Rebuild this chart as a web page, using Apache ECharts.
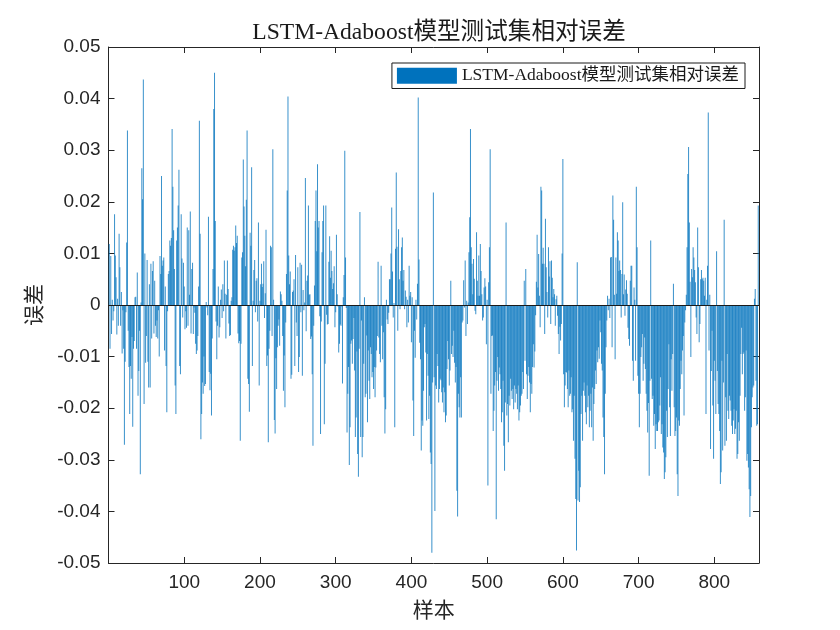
<!DOCTYPE html>
<html>
<head>
<meta charset="utf-8">
<script src="https://cdn.jsdelivr.net/npm/echarts@6/dist/echarts.min.js"></script>
<style>html,body{margin:0;padding:0;background:#fff;}#c{width:840px;height:630px;}</style>
</head>
<body>
<div id="c"></div>
<script>
const titleText = 'LSTM-Adaboost模型测试集相对误差';
const seriesName = 'LSTM-Adaboost模型测试集相对误差';
const xName = '样本';
const yName = '误差';
const xTicks = [100, 200, 300, 400, 500, 600, 700, 800];
const yTicks = [-0.05, -0.04, -0.03, -0.02, -0.01, 0, 0.01, 0.02, 0.03, 0.04, 0.05];
// relative error per sample
const errors = [
0.0118,-0.0085,0.0095,-0.0056,0.001,-0.003,-0.0012,0.0176,0.0096,0.0054,
-0.0057,0.0012,-0.004,0.0138,0.0073,-0.004,0.0025,-0.0094,-0.001,-0.0085,
-0.0271,-0.011,-0.0014,0.0121,0.0338,-0.005,-0.012,-0.0211,-0.0118,-0.0143,
-0.0062,-0.0236,-0.0085,-0.007,0.0015,0.0016,-0.0085,0.0063,-0.0176,-0.0128,
-0.005,-0.0328,0.0005,0.0265,0.0205,0.0437,-0.0192,0.01,-0.0112,-0.006,
0.0087,-0.011,-0.016,0.004,-0.016,0.008,-0.0065,0.0066,0.0085,-0.0055,
0.0047,-0.004,-0.0062,-0.003,-0.0065,-0.001,-0.01,0.0095,0.006,0.025,
0.0076,0.0086,
0.0092,-0.0088,0.0036,-0.0118,-0.0208,-0.0012,0.006,0.0066,0.0125,0.0115,
0.013,0.0341,0.0229,0.0145,0.007,-0.0156,-0.0211,0.0125,0.015,
0.0193,0.0262,-0.0118,-0.0134,0.0176,0.009,-0.0024,0.0082,0.0036,-0.0047,
-0.0012,-0.0044,0.015,-0.004,0.0145,0.002,0.0181,-0.0055,0.007,0.0082,
-0.0056,-0.0005,-0.0015,-0.0075,-0.0095,-0.0088,-0.006,0.0036,0.0357,0.0138,
-0.026,-0.0211,-0.015,-0.0172,-0.01,-0.0157,-0.0153,0.0006,-0.0005,-0.002,
0.0171,-0.013,-0.0165,-0.0133,-0.0214,-0.0065,0.007,0.038,0.045,0.0163,
-0.0032,-0.0105,-0.004,
0.0036,-0.0063,-0.0043,0.001,0.003,-0.0025,0.004,-0.0012,0.0086,0.0022,
-0.0065,0.002,0.0086,0.0031,-0.0036,-0.006,-0.0058,0.0008,0.0015,0.0107,
0.0115,0.0105,0.0112,0.0154,0.012,0.0134,-0.0055,-0.0074,-0.007,-0.0263,
-0.0075,0.0092,0.0102,0.0282,0.0191,0.0134,0.0075,0.0204,0.0338,-0.0143,
-0.0153,-0.0207,0.014,0.0115,0.0267,-0.0118,0.0008,0.0068,0.0087,-0.0014,
0.0047,0.0052,-0.0032,0.016,-0.0156,0.0008,0.004,0.008,0.0035,0.0041,
0.0085,-0.0025,0.0023,0.0146,-0.0118,-0.0098,-0.0266,-0.0085,-0.005,0.0115,
0.0112,-0.006,0.0302,
0.001,-0.0223,-0.0249,-0.0103,-0.0163,-0.0082,-0.004,-0.0028,-0.0079,0.0026,
0.0021,0.0008,-0.006,-0.0166,-0.0098,-0.0198,-0.0034,0.006,0.0222,0.0404,
0.0096,0.004,0.0065,-0.0143,-0.0135,0.0025,0.0028,0.005,-0.0118,0.0097,
-0.0034,-0.006,0.0073,-0.013,-0.0101,0.0082,-0.0014,0.0078,-0.0137,0.0029,
-0.001,0.0005,0.0246,-0.0051,0.0047,0.0057,0.0193,0.002,0.0021,
-0.0066,-0.0061,-0.0134,-0.0273,-0.004,0.0038,0.0163,0.0222,0.0104,0.0273,
0.015,0.0163,-0.0022,-0.025,-0.0032,0.0102,0.0163,0.0193,-0.0231,-0.0114,
0.0193,-0.0019,-0.0038,
-0.0037,0.0084,0.0133,0.0053,0.0105,0.0066,0.0031,0.0042,0.0075,-0.0043,
-0.0014,0.0136,0.0021,-0.0003,-0.0092,-0.0075,-0.0038,-0.004,-0.0003,-0.0152,
0.0015,0.0058,0.0299,0.0092,-0.0006,-0.0247,-0.0172,-0.012,-0.031,-0.0237,
-0.0075,-0.0069,-0.0114,-0.0066,-0.0025,-0.0127,-0.0256,-0.0218,-0.009,-0.0289,
-0.0333,-0.0085,0.018,-0.0256,-0.003,-0.0295,-0.0256,-0.0114,0.0015,-0.0179,
-0.0172,-0.0059,-0.0227,-0.0088,-0.0147,-0.0182,-0.0082,-0.0095,-0.014,-0.013,
-0.0163,-0.012,-0.0179,-0.0121,-0.0088,-0.006,0.0084,-0.0063,-0.0095,-0.0111,
0.0076,-0.004,-0.0105,
-0.0053,-0.0179,-0.0249,-0.0202,0.001,-0.0028,-0.0037,-0.0015,0.005,0.005,
0.01,0.0189,0.0065,-0.0024,0.0004,-0.0237,0.0109,0.0257,0.0113,-0.005,
0.0147,0.005,-0.0008,0.0066,0.0112,0.0131,0.0047,0.0068,-0.0008,0.0028,
0.0016,-0.0043,0.001,-0.0034,0.0076,0.0018,0.0025,-0.0072,0.0015,-0.0185,
-0.0254,-0.005,-0.0102,0.001,-0.0028,0.0041,0.0402,0.0088,-0.0073,-0.0105,
-0.0282,-0.0224,-0.0234,-0.0166,-0.0043,-0.0037,-0.0092,-0.0224,-0.0095,-0.0137,
-0.0221,-0.0176,-0.0286,-0.0308,-0.048,-0.015,
0.0218,-0.014,-0.0399,-0.0156,-0.0163,-0.0095,
-0.0118,-0.0189,-0.0163,-0.0143,-0.0146,-0.0169,-0.0189,-0.016,-0.0208,-0.0169,
-0.0227,-0.0214,-0.0124,-0.007,-0.0105,-0.0156,-0.0127,0.0047,-0.0095,-0.0079,
-0.0101,-0.005,-0.0112,-0.015,-0.012,-0.036,-0.041,-0.0172,-0.0198,-0.0218,
-0.014,-0.0218,-0.0034,-0.003,0.0048,-0.0005,0.0086,-0.006,0.0008,-0.0037,
0.0005,0.0102,0.017,0.0341,0.0112,0.008,0.0021,0.0089,0.0051,-0.0011,
-0.0018,0.0141,0.0047,0.0018,0.0096,0.0018,0.0118,0.0066,0.0021,-0.003,
-0.0024,0.0034,0.0052,0.0036,-0.0076,0.001,-0.035,0.0044,0.0112,0.0302,
-0.0172,-0.006,-0.0059,
-0.0244,-0.0205,-0.0156,-0.013,-0.0415,-0.0147,-0.0101,-0.0166,-0.0121,-0.0134,
-0.0163,-0.0227,-0.0208,-0.0147,-0.0273,-0.0321,-0.0189,0.016,-0.0214,-0.0192,
-0.0266,-0.0176,-0.0195,-0.0143,-0.0166,-0.0182,-0.0163,-0.0202,-0.0156,-0.0189,
-0.0163,-0.0172,-0.0202,-0.0156,-0.0224,-0.0208,-0.0195,-0.0176,-0.0172,-0.013,
-0.0163,0.0047,-0.0108,0.007,-0.0134,-0.0182,-0.0137,-0.012,-0.015,-0.0208,
-0.0153,-0.0172,-0.012,-0.0076,-0.0121,-0.009,-0.002,0.0045,0.0136,0.0034,
0.0099,0.0018,-0.0043,0.0229,0.0222,0.008,0.0111,0.008,-0.0056,0.0167,
0.0073,0.0025,-0.0024,
0.0112,0.0055,0.0085,-0.0037,0.0086,0.0053,0.0015,0.0031,0.0021,-0.004,
0.0011,0.0018,-0.0021,-0.0056,-0.0095,-0.0042,-0.0069,-0.0037,
0.01,0.0283,-0.0134,-0.0198,-0.0156,-0.013,-0.0131,-0.0163,-0.0198,-0.0127,
-0.0176,-0.0172,-0.014,-0.0208,-0.0202,-0.0263,-0.0176,-0.0298,-0.0376,-0.0476,
0.0083,-0.0379,-0.0321,-0.0382,-0.0353,-0.0211,-0.0176,-0.0263,-0.0166,-0.015,
-0.0176,-0.0208,-0.0231,-0.0156,-0.0198,-0.0176,-0.0237,-0.0205,-0.0172,-0.0237,
-0.016,-0.0263,-0.0192,-0.0163,-0.0127,-0.0153,-0.0088,-0.0111,-0.0082,-0.0104,
-0.003,-0.0053,-0.0114,-0.0127,
-0.0218,-0.0256,-0.0328,-0.0172,-0.0082,-0.003,0.0018,-0.001,0.0012,-0.0025,
0.0092,0.0093,-0.0082,0.0212,0.0165,0.002,-0.0105,0.0092,0.0022,0.0141,
0.0125,0.0066,0.0086,0.0068,-0.0024,0.006,0.0199,0.0021,0.0059,-0.0021,
0.003,0.0048,0.0022,-0.0044,-0.0066,-0.0079,0.0047,0.0076,0.0076,-0.0108,
-0.0147,0.0034,0.001,-0.0108,0.0229,0.0112,-0.0137,-0.0172,-0.0237,-0.0172,
-0.0101,-0.0082,-0.0056,-0.0147,-0.0114,-0.0063,-0.0124,-0.0172,-0.0205,-0.0247,
-0.019,-0.0331,-0.0147,0.0125,-0.0143,-0.0182,-0.0176,-0.0234,-0.0211,-0.0279,
-0.0231,-0.0244,-0.0244,
-0.0227,-0.0224,-0.0195,-0.014,-0.025,-0.0231,-0.0276,-0.0286,-0.0337,-0.0324,
-0.0295,-0.0205,-0.0256,-0.0163,-0.0076,-0.0198,-0.0254,-0.0105,-0.0166,-0.0095,
0.0041,-0.0198,-0.0254,-0.0244,-0.0218,-0.0328,-0.037,-0.0224,-0.0234,-0.0163,
-0.0108,-0.0134,-0.0088,-0.006,-0.0214,-0.0034,-0.001,0.002,0.0112,0.0254,
0.0306,0.016,0.0045,-0.0101,0.007,0.0054,0.0112,0.0092,0.0068,0.0044,
-0.0024,
-0.0056,0.015,0.0073,-0.0072,-0.0037,0.005,0.0068,0.005,0.0053,0.0047,
0.0018,0.0053,-0.0211,0.001,0.0076,0.0373,-0.0088,0.002,-0.0279,-0.0128,
-0.005,
-0.0195,-0.0298,-0.0108,-0.0147,-0.0211,0.0104,-0.0128,-0.0192,-0.0211,-0.0244,
-0.0347,-0.0324,-0.0108,-0.0282,-0.015,0.0165,-0.0273,-0.0179,-0.0263,-0.0095,
-0.0205,-0.0221,-0.0176,-0.0185,-0.0205,-0.0234,-0.025,-0.0224,-0.0202,-0.025,
-0.024,-0.0205,-0.0298,-0.0289,-0.0227,-0.0263,-0.0176,-0.0095,-0.0044,-0.0134,
-0.0095,-0.0092,-0.0205,-0.0179,-0.0088,-0.0302,-0.0289,-0.0315,-0.0357,-0.0411,
-0.037,-0.0237,-0.0179,-0.016,-0.0156,0.0012,0.0031,-0.0147,-0.0234,-0.0231,0.0193
];
const samples = errors.map((_, k) => k + 1);

const N = errors.length;
const axisColor = '#262626';
const serif = "'Liberation Serif','Times New Roman','Noto Sans CJK SC',serif";
const sans = "'Liberation Sans',Arial,Helvetica,sans-serif";

const chart = echarts.init(document.getElementById('c'), null, {renderer: 'canvas'});
chart.setOption({
  animation: false,
  backgroundColor: '#ffffff',
  title: {
    text: titleText, left: 434, textAlign: 'center', top: 16,
    textStyle: {fontFamily: serif, fontSize: 23.6, fontWeight: 'normal', color: '#1a1a1a'}
  },
  legend: {
    data: [seriesName], right: 95, top: 63, orient: 'horizontal',
    icon: 'rect', itemWidth: 60, itemHeight: 16, itemGap: 4,
    itemStyle: {color: '#0072BD', opacity: 1},
    padding: [4, 6, 4, 5], backgroundColor: '#ffffff', borderColor: '#1a1a1a', borderWidth: 1,
    textStyle: {fontFamily: serif, fontSize: 17.5, color: '#1a1a1a', padding: [0, 0, 0, 0]}
  },
  grid: {left: 108.5, right: 81, top: 47, bottom: 67, containLabel: false},
  xAxis: [{
    type: 'value', min: 0, max: N + 1, interval: 100, position: 'bottom',
    name: xName, nameLocation: 'middle', nameGap: 38,
    nameTextStyle: {fontFamily: serif, fontSize: 21, color: '#262626'},
    axisLine: {onZero: false, lineStyle: {color: axisColor, width: 1}},
    axisTick: {inside: true, length: 6, lineStyle: {color: axisColor}},
    axisLabel: {fontFamily: sans, fontSize: 19, color: axisColor, margin: 10, showMinLabel: false, showMaxLabel: false,
      formatter: v => (xTicks.indexOf(v) >= 0 ? String(v) : '')},
    splitLine: {show: false}
  }, {
    type: 'value', min: 0, max: N + 1, interval: 100, position: 'top',
    axisLine: {onZero: false, lineStyle: {color: axisColor, width: 1}},
    axisTick: {inside: true, length: 6, lineStyle: {color: axisColor}},
    axisLabel: {show: false}, splitLine: {show: false}
  }],
  yAxis: [{
    type: 'value', min: yTicks[0], max: yTicks[yTicks.length - 1], interval: 0.01, position: 'left',
    name: yName, nameLocation: 'middle', nameGap: 62, nameRotate: 90,
    nameTextStyle: {fontFamily: serif, fontSize: 21, color: '#262626'},
    axisLine: {onZero: false, lineStyle: {color: axisColor, width: 1}},
    axisTick: {inside: true, length: 6, lineStyle: {color: axisColor}},
    axisLabel: {fontFamily: sans, fontSize: 19, color: axisColor, margin: 8,
      formatter: v => (Math.abs(v) < 1e-9 ? '0' : v.toFixed(2))},
    splitLine: {show: false}
  }, {
    type: 'value', min: yTicks[0], max: yTicks[yTicks.length - 1], interval: 0.01, position: 'right',
    axisLine: {onZero: false, lineStyle: {color: axisColor, width: 1}},
    axisTick: {inside: true, length: 6, lineStyle: {color: axisColor}},
    axisLabel: {show: false}, splitLine: {show: false}
  }],
  series: [{
    name: seriesName, type: 'bar', xAxisIndex: 0, yAxisIndex: 0,
    data: samples.map((s, k) => [s, errors[k]]),
    barWidth: '80%',
    itemStyle: {color: '#0072BD', opacity: 0.78},
    markLine: {
      silent: true, symbol: ['none', 'none'], label: {show: false},
      lineStyle: {color: '#1a1a1a', width: 1, type: 'solid'},
      data: [{yAxis: 0}]
    }
  }]
});
</script>
</body>
</html>
